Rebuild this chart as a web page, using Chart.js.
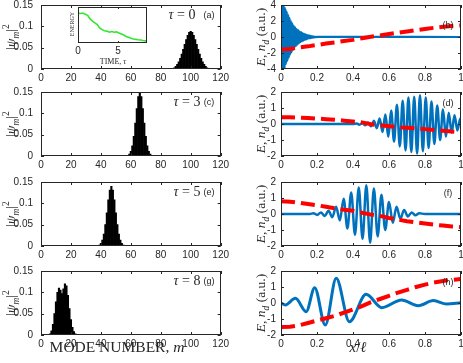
<!DOCTYPE html>
<html>
<head>
<meta charset="utf-8">
<script src="https://cdn.jsdelivr.net/npm/chart.js@4"></script>
<style>
  body { margin: 0; background: #fff; width: 463px; height: 363px; overflow: hidden; position: relative; }
  .box { position: absolute; }
  .lbl { position: absolute; font-family: "Liberation Serif", "Times New Roman", serif; color: #262626; white-space: nowrap; transform: translate(-50%, -50%); }
  .rot { transform: translate(-50%, -50%) rotate(-90deg); }
  .tag { position: absolute; font-family: "Liberation Sans", Arial, sans-serif; font-size: 9px; color: #262626; transform: translate(-50%, -50%); }
  sub, sup { font-size: 70%; }
</style>
</head>
<body>
<script>
// histograms |psi_m|^2 versus mode number
const modesA = [86,87,88,89,90,91,92,93,94,95,96,97,98,99,100,101,102,103,104,105,106,107,108,109,110,111,112,113,114]
const psiA = [.0003,.0007,.0015,.003,.006,.011,.017,.025,.035,.046,.058,.069,.079,.086,.088,.086,.079,.069,.058,.046,.035,.025,.017,.011,.006,.003,.0015,.0007,.0003]
const modesC = [57,58,59,60,61,62,63,64,65,66,67,68,69,70,71,72,73,74,75]
const psiC = [.0005,.0015,.0045,.011,.024,.046,.077,.111,.139,.149,.139,.111,.077,.046,.024,.011,.0045,.0015,.0005]
const modesE = [38,39,40,41,42,43,44,45,46,47,48,49,50,51,52,53,54,55,56]
const psiE = [.0008,.0024,.006,.014,.028,.05,.078,.108,.131,.14,.131,.108,.078,.05,.028,.014,.006,.0024,.0008]
const modesG = [5,6,7,8,9,10,11,12,13,14,15,16,17,18,19,20,21,22,23,24]
const psiG = [.001,.003,.01,.025,.05,.078,.1,.11,.105,.097,.108,.12,.115,.093,.062,.036,.018,.008,.003,.001]

// inset: energy versus time
const timeT = [0,0.3,0.6,0.9,1.2,1.5,1.8,2.1,2.4,2.7,3.0,3.3,3.6,3.9,4.2,4.5,4.8,5.1,5.4,5.7,6.0,6.3,6.6,6.9,7.2,7.5,7.8,8.1,8.4,8.6]
const energy = [0.83,0.82,0.83,0.80,0.77,0.67,0.61,0.56,0.51,0.42,0.37,0.34,0.33,0.30,0.32,0.30,0.31,0.28,0.25,0.22,0.18,0.16,0.13,0.11,0.10,0.09,0.085,0.07,0.06,0.06]

// density n_d on a common grid
const xGrid = [0,0.05,0.1,0.15,0.2,0.25,0.3,0.35,0.4,0.45,0.5,0.55,0.6,0.65,0.7,0.75,0.8,0.85,0.9,0.95,1]
const ndB = [-1.55,-1.5,-1.3,-1.17,-1.0,-0.82,-0.68,-0.5,-0.36,-0.16,0.04,0.2,0.38,0.54,0.7,0.86,1.0,1.15,1.28,1.38,1.45]
const ndD = [0.42,0.42,0.4,0.37,0.34,0.3,0.26,0.21,0.16,0.1,-0.02,-0.08,-0.14,-0.2,-0.24,-0.28,-0.32,-0.37,-0.42,-0.47,-0.5]
const ndF = [0.8,0.77,0.7,0.62,0.55,0.45,0.36,0.27,0.2,0.08,-0.04,-0.12,-0.25,-0.35,-0.45,-0.52,-0.6,-0.67,-0.72,-0.78,-0.82]
const ndH = [-1.5,-1.48,-1.4,-1.25,-1.1,-0.95,-0.8,-0.6,-0.4,-0.2,0.05,0.25,0.45,0.65,0.82,1.0,1.15,1.28,1.38,1.45,1.5]

// field E as [x, E] pairs
const eB = [[0,4.4],[0.004,-4.0],[0.008,4.2],[0.012,-4.4],[0.016,3.9],[0.02,-4.6],[0.024,3.6],[0.028,-3.4],[0.032,3.2],[0.036,-3.0],
  [0.04,2.8],[0.044,-2.6],[0.048,2.4],[0.052,-2.2],[0.056,2.0],[0.06,-1.9],[0.064,1.7],[0.068,-1.6],[0.072,1.4],[0.076,-1.3],
  [0.08,1.2],[0.084,-1.1],[0.088,1.0],[0.092,-0.95],[0.096,0.85],[0.1,-0.8],[0.104,0.7],[0.108,-0.65],[0.112,0.6],[0.116,-0.55],
  [0.12,0.5],[0.124,-0.45],[0.128,0.4],[0.132,-0.35],[0.136,0.32],[0.14,-0.3],[0.144,0.26],[0.148,-0.23],[0.152,0.2],[0.156,-0.18],
  [0.16,0.16],[0.164,-0.14],[0.168,0.12],[0.172,-0.1],[0.176,0.08],[0.18,-0.07],[0.184,0.05],[0.188,-0.04],[0.192,0.03],[0.196,-0.02],
  [0.2,0.01],[1,0]]
const eD = [[0,0],[0.4,0],[0.42,0.03],[0.436,-0.04],[0.452,0.06],[0.468,-0.08],[0.484,0.1],[0.5,-0.14],[0.516,0.2],[0.532,-0.26],
  [0.548,0.35],[0.564,-0.5],[0.58,0.6],[0.596,-0.8],[0.612,0.85],[0.628,-1.1],[0.644,1.2],[0.66,-1.4],[0.676,1.45],[0.692,-1.65],
  [0.708,1.65],[0.724,-1.75],[0.74,1.7],[0.756,-1.85],[0.772,1.8],[0.788,-1.7],[0.804,1.65],[0.82,-1.5],[0.836,1.4],[0.852,-1.25],
  [0.868,1.15],[0.884,-1.0],[0.9,0.9],[0.916,-0.8],[0.932,0.7],[0.948,-0.55],[0.964,0.55],[0.98,-0.4],[0.996,0.35],[1,0.2]]
const eF = [[0,0],[0.16,0],[0.18,0.05],[0.201,-0.06],[0.222,0.1],[0.243,-0.12],[0.264,0.2],[0.285,-0.2],[0.306,0.45],[0.327,-0.4],
  [0.348,0.95],[0.369,-0.9],[0.39,1.35],[0.411,-1.3],[0.432,1.65],[0.453,-1.55],[0.474,1.8],[0.495,-1.8],[0.516,1.6],[0.537,-1.4],
  [0.558,1.2],[0.579,-1.0],[0.6,0.75],[0.621,-0.55],[0.642,0.45],[0.663,-0.3],[0.684,0.25],[0.705,-0.15],[0.726,0.1],[0.747,-0.08],
  [0.768,0.05],[0.8,0],[1,0]]
const eH = [[0,0],[0.024,-0.12],[0.08,0.29],[0.14,-0.54],[0.187,0.96],[0.246,-1.38],[0.307,1.54],[0.38,-1.17],[0.473,0.54],[0.56,-0.29],
  [0.67,0.19],[0.763,-0.17],[0.847,0.15],[0.92,-0.06],[1,0.02]]

const INK = "#262626"
const TICK_FONT = { family: "'Liberation Sans', Arial, sans-serif", size: 10 }

// MATLAB style box with inward ticks
const boxTicks = {
    id: "boxTicks",
    afterDatasetsDraw(chart, args, opts) {
        let ctx = chart.ctx
        let a = chart.chartArea
        let len = opts.len || 3
        ctx.save()
        ctx.strokeStyle = INK
        ctx.lineWidth = 1
        ctx.beginPath()
        chart.scales.x.ticks.forEach(t => {
            let px = Math.round(chart.scales.x.getPixelForValue(t.value)) + 0.5
            ctx.moveTo(px, a.bottom); ctx.lineTo(px, a.bottom - len)
            ctx.moveTo(px, a.top); ctx.lineTo(px, a.top + len)
        })
        if (opts.yTicks !== false) {
            chart.scales.y.ticks.forEach(t => {
                let py = Math.round(chart.scales.y.getPixelForValue(t.value)) + 0.5
                ctx.moveTo(a.left, py); ctx.lineTo(a.left + len, py)
                ctx.moveTo(a.right, py); ctx.lineTo(a.right - len, py)
            })
        }
        ctx.stroke()
        ctx.strokeRect(Math.round(a.left) + 0.5, Math.round(a.top) + 0.5, Math.round(a.width) - 1, Math.round(a.height) - 1)
        ctx.restore()
    }
}

function place(left, top, width, height) {
    let div = document.createElement("div")
    div.className = "box"
    div.style.left = left + "px"
    div.style.top = top + "px"
    let cv = document.createElement("canvas")
    cv.width = width
    cv.height = height
    div.appendChild(cv)
    document.body.appendChild(div)
    return cv
}

function text(html, x, y, size, cls) {
    let d = document.createElement("div")
    d.className = cls || "lbl"
    d.style.left = x + "px"
    d.style.top = y + "px"
    if (size) d.style.fontSize = size + "px"
    d.innerHTML = html
    document.body.appendChild(d)
}

function axisOpts(min, max, step, pad, fit) {
    return {
        type: "linear", offset: false, min: min, max: max,
        grid: { display: false, drawTicks: false }, border: { display: false },
        ticks: { stepSize: step, padding: pad, font: TICK_FONT, color: INK, maxRotation: 0, autoSkip: false,
                 includeBounds: false, callback: v => +v.toFixed(2) },
        afterFit: fit
    }
}

// the y tick padding plus half a label pushes the plot top down inside the canvas
const PLOT_H = 64

function histChart(top, modes, vals) {
    let inner = 6 + 8
    let cv = place(0, top - inner, 232, inner + PLOT_H + 18)
    new Chart(cv, {
        type: "bar",
        data: {
            datasets: [{
                data: modes.map((m, i) => ({ x: m, y: vals[i] })),
                backgroundColor: "#000",
                barPercentage: 1,
                categoryPercentage: 1
            }]
        },
        options: {
            responsive: false, animation: false,
            layout: { padding: { top: 0, right: 9, left: 0, bottom: 0 } },
            plugins: { legend: { display: false }, tooltip: { enabled: false } },
            scales: {
                x: axisOpts(0, 120, 20, 3, s => { s.height = 18 }),
                y: axisOpts(0, 0.15, 0.05, 8, s => { s.width = 41 })
            }
        },
        plugins: [boxTicks]
    })
}

function waveChart(top, ymax, ystep, wave, nd, waveWidth) {
    let inner = 6 + 5
    let cv = place(240, top - inner, 230, inner + PLOT_H + 18)
    new Chart(cv, {
        type: "line",
        data: {
            datasets: [
                {
                    data: xGrid.map((x, i) => ({ x: x, y: nd[i] })),
                    borderColor: "#FF0000", borderWidth: 4, borderDash: [14, 6],
                    pointRadius: 0, tension: 0, clip: 0
                },
                {
                    data: wave.map(p => ({ x: p[0], y: p[1] })),
                    borderColor: "#0072BD", borderWidth: waveWidth,
                    pointRadius: 0, cubicInterpolationMode: "monotone", clip: 0
                }
            ]
        },
        options: {
            responsive: false, animation: false,
            layout: { padding: { top: 0, right: 9, left: 0, bottom: 0 } },
            plugins: { legend: { display: false }, tooltip: { enabled: false } },
            scales: {
                x: axisOpts(0, 1, 0.2, 3, s => { s.height = 18 }),
                y: axisOpts(-ymax, ymax, ystep, 5, s => { s.width = 41 })
            }
        },
        plugins: [boxTicks]
    })
}

let tops = [5, 92, 182, 271]

histChart(tops[0], modesA, psiA)
histChart(tops[1], modesC, psiC)
histChart(tops[2], modesE, psiE)
histChart(tops[3], modesG, psiG)

waveChart(tops[0], 4, 2, eB, ndB, 2.2)
waveChart(tops[1], 2, 1, eD, ndD, 2.5)
waveChart(tops[2], 2, 1, eF, ndF, 2.5)
waveChart(tops[3], 2, 1, eH, ndH, 3)

// inset with the energy decay
let insetY = axisOpts(0, 1, 0.5, 0, s => { s.width = 18 })
insetY.ticks.display = false
let inset = place(60, 0, 95, 57)
new Chart(inset, {
    type: "line",
    data: {
        datasets: [{
            data: timeT.map((t, i) => ({ x: t, y: energy[i] })),
            borderColor: "#33E633", borderWidth: 1.6, pointRadius: 0, tension: 0, clip: 0
        }]
    },
    options: {
        responsive: false, animation: false,
        layout: { padding: { top: 7, right: 8, left: 0, bottom: 0 } },
        plugins: { legend: { display: false }, tooltip: { enabled: false }, boxTicks: { yTicks: false, len: 2 } },
        scales: {
            x: axisOpts(0, 8.6, 5, 2, s => { s.height = 14 }),
            y: insetY
        }
    },
    plugins: [boxTicks]
})

// texts
let taus = ["0", "3", "5", "8"]
let letL = ["(a)", "(c)", "(e)", "(g)"]
let letR = ["(b)", "(d)", "(f)", "(h)"]
for (let i = 0; i < 4; i++) {
    let t = tops[i]
    text("|<i>ψ<sub>m</sub></i>|<sup>2</sup>", 11, t + 32, 13.5, "lbl rot")
    text("<i>E</i>, <i>n<sub>d</sub></i> (a.u.)", 262, t + 32, 13.5, "lbl rot")
    text("<i>τ</i> = " + taus[i], i == 0 ? 182 : 187, t + 10, 14)
    text(letL[i], 209, t + 10, 9, "tag")
    text(letR[i], 448, t + (i == 0 ? 20 : 11), 9, "tag")
}
text("MODE NUMBER, <i>m</i>", 117, 347, 15.5)
text("<i>x</i>/<i>ℓ</i>", 358, 347, 15)
text("ENERGY", 72, 24, 6, "lbl rot")
text("TIME, <i>τ</i>", 113, 61, 8)
</script>
</body>
</html>
